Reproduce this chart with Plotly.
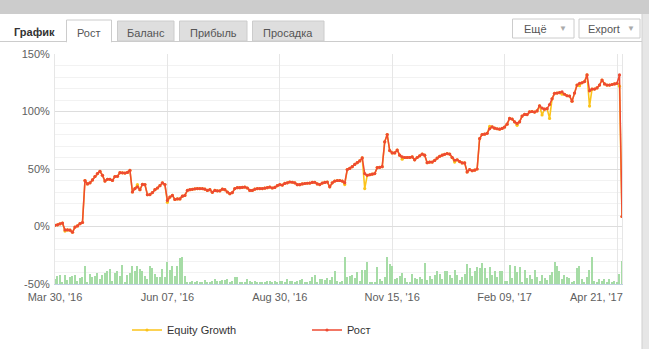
import plotly.graph_objects as go

# ---------------- data ----------------
tick_labels = ["Mar 30, '16", "Jun 07, '16", "Aug 30, '16", "Nov 15, '16", "Feb 09, '17", "Apr 21, '17"]
tick_points = [0, 45, 90, 135, 180, 225]   # point number of each labelled date (ordinal axis)

growth = [
    1, 1.5, 2.3, 3, -3, -3, -3.2, -5, -0.5, 0.5,
    2.5, 3.5, 40, 37, 38, 40.5, 43.5, 46, 48, 44.5,
    39.5, 41, 41, 40, 43.5, 43.6, 46.8, 46.7, 46.5, 47,
    48.8, 30, 33, 34.5, 32, 36.6, 36.5, 27.6, 27.8, 29.5,
    32, 33.5, 35.5, 38, 36.5, 22.7, 25.6, 27, 23.5, 24,
    24, 26.4, 27, 31.4, 32, 32.3, 32.8, 33, 33, 33,
    32.5, 31.4, 32, 29.7, 31.4, 31, 31, 32.5, 32, 30,
    28.5, 29.5, 33, 33.8, 33.8, 34, 34.3, 33.5, 31.4, 31.4,
    32.5, 33, 33, 33, 33.3, 33.8, 34.3, 33.5, 34, 35.5,
    36.4, 36, 37.5, 38, 38.7, 38.5, 38, 36.4, 36.4, 37,
    37.4, 37.6, 37.8, 38.3, 38.5, 37, 36.5, 37.8, 38.3, 38.7,
    34.5, 38, 39.5, 40, 40, 39.5, 38, 49.5, 50.5, 52,
    54, 55.5, 57, 59.6, 46, 44.5, 45, 45.5, 46, 51.2,
    51.5, 52, 73.6, 80, 66, 64, 64, 66.5, 62, 60.5,
    60, 60, 60, 60.5, 58, 60, 61.5, 63, 62, 55.5,
    56, 56, 57.5, 59.5, 61, 62, 62.8, 63.4, 63, 60,
    57.6, 58, 56.5, 55.3, 55.3, 47.4, 49.5, 48.5, 49, 50,
    76.5, 80, 80.3, 81, 85, 86.6, 85.5, 85, 84.6, 85.3,
    86.5, 89, 94, 93.5, 91, 89.6, 91, 96, 97.5, 97.3,
    99.7, 100, 99.5, 100.5, 105, 103, 102, 102.5, 106, 111,
    115.8, 116, 116.5, 117, 115, 113.7, 113.5, 109, 116, 123,
    124.5, 125, 126, 131.8, 118, 119.5, 119.5, 120.5, 123, 127.4,
    124, 123, 123, 123.5, 124, 124.5, 131.8, 8.7,
]

# points where the Equity Growth line departs from Рост (all other points coincide)
equity_departures = {
    4: -4, 33: 36.5, 45: 21, 116: 36.5, 124: 33, 139: 58.5, 160: 56,
    174: 87, 185: 88, 195: 97, 198: 94, 203: 115, 210: 122.5, 214: 104.7, 226: 122,
}
equity = [equity_departures.get(i, v) for i, v in enumerate(growth)]

# small green columns at the bottom (height above the -50% floor, in axis units)
volume = [
    4.4, 7.3, 8.1, 1.5, 7.9, 3.5, 5.8, 7.3, 8.1, 2.3, 5.2, 6.4, 16, 1.5, 8.7, 5.8, 7.3, 9.3, 4.4, 8.1,
    9.3, 11.6, 13.1, 2.3, 9.3, 11, 7.3, 16.9, 1.5, 8.1, 9.3, 16, 11.6, 16, 13.1, 11.6, 7.3, 4.4, 16, 14,
    8.7, 6.4, 5.8, 13.1, 6.4, 18.9, 12.2, 16, 7.3, 16, 22.7, 23.5,
    7.3,
    1.5, 0.9, 2.3, 1.5, 2.9, 1.2, 2.0, 3.5, 1.5, 2.0, 2.9, 4.4, 2.3, 2.9, 3.5, 3.5, 4.4, 1.5, 2.3, 5.8,
    6.4, 1.5, 2.0, 0.9, 4.4, 2.9, 2.0, 2.9, 0.9, 0.9, 0.9, 0.9, 2.3, 2.9, 0.9, 2.3, 0.9, 2.9, 2.9, 1.5,
    4.4, 2.3, 2.9, 2.0, 2.9, 3.5, 4.4, 0.9, 1.5, 2.9, 6.4, 8.1, 2.0, 4.4, 4.4, 3.5, 5.2, 3.5, 5.8, 11,
    2.9, 1.5, 2.3, 23.9,
    5.8, 7.3, 8.1, 5.2, 10.2, 2.3, 12.2, 12.2, 18.9, 0.9, 1.5, 0.9, 14.5, 4.4, 2.3, 5.8, 23.9, 17.5, 16,
    4.4, 5.2, 7.3, 9.3, 5.2, 0.9, 0.9, 8.7, 5.2, 4.4, 6.4, 4.4, 18, 3.5, 7.3, 4.4, 8.1, 11, 8.7, 4.4,
    11, 11, 8.1, 5.2, 12.2, 8.1, 3.5, 5.8, 8.7, 17.5, 14, 7.3, 11.6, 15.1, 14, 18, 14, 5.2, 14.5, 8.1,
    11, 6.4, 11.6, 11, 2.3,
    2.3, 16.9, 5.2, 16, 10.2, 14.5, 1.5, 12.2, 5.2, 8.1, 4.4, 12.2, 5.8, 2.9, 8.1, 5.2, 3.5, 8.1, 10.2, 18.9,
    16, 11, 4.4, 8.1, 6.4, 5.2, 1.5, 2.3, 14, 16, 4.4, 1.5, 6.4, 12.2, 23.9, 2.9, 1.5, 4.4, 2.3, 4.4,
    1.5, 4.4, 1.5, 2.3, 1.5, 8.7, 20.4,
]

y_ticks = [-50, 0, 50, 100, 150]
y_tick_labels = ["-50%", "0%", "50%", "100%", "150%"]

tab_names = ["Рост", "Баланс", "Прибыль", "Просадка"]

# ---------------- figure ----------------
W, H = 649, 349
L, R, T, B = 55, 622, 54, 284


def PX(x):
    return (x - L) / (R - L)


def PY(y):
    return (B - y) / (B - T)


FONT = "Liberation Sans, Arial, sans-serif"

# the last date label is justified to stay inside the plot edge (as Highcharts does),
# so it is drawn as an annotation at its tick position, shifted left
shown_tick_labels = list(tick_labels[:-1]) + [""]

fig = go.Figure()
fig.add_trace(go.Bar(
    x=list(range(len(volume))), y=volume, base=-50,
    marker=dict(color="#a6dca6", line=dict(width=0)), width=0.45,
    showlegend=False, hoverinfo="skip",
))
fig.add_trace(go.Scatter(
    x=list(range(len(equity))), y=equity, name="Equity Growth",
    mode="lines+markers",
    line=dict(color="#fbc31a", width=1.6),
    marker=dict(color="#fbc31a", size=3.2),
))
fig.add_trace(go.Scatter(
    x=list(range(len(growth))), y=growth, name="Рост",
    mode="lines+markers",
    line=dict(color="#ee4a32", width=1.5),
    marker=dict(color="#ee4a32", size=3.2),
))

shapes = []
annotations = []


def rect(x0, y0, x1, y1, fill, line=None, lw=1):
    shapes.append(dict(type="rect", xref="paper", yref="paper",
                       x0=PX(x0), x1=PX(x1), y0=PY(y1), y1=PY(y0),
                       fillcolor=fill, line=dict(color=line or fill, width=lw if line else 0),
                       layer="above"))


def hline(x0, x1, y, color):
    shapes.append(dict(type="line", xref="paper", yref="paper",
                       x0=PX(x0), x1=PX(x1), y0=PY(y), y1=PY(y),
                       line=dict(color=color, width=1), layer="above"))


def text(x, y, s, size=11, color="#555555", bold=False, anchor="center"):
    annotations.append(dict(xref="paper", yref="paper", x=PX(x), y=PY(y),
                            text=("<b>%s</b>" % s) if bold else s, showarrow=False,
                            xanchor=anchor, yanchor="middle",
                            font=dict(family=FONT, size=size, color=color)))


# last x label (justified inside the plot's right edge)
annotations.append(dict(xref="x", yref="paper", x=tick_points[-1], y=PY(297),
                        text=tick_labels[-1], showarrow=False, xanchor="right", yanchor="middle",
                        xshift=8, font=dict(family=FONT, size=11, color="#606060")))

# header: grey top band and right strip
rect(0, 0, 649, 14, "#cccccc")
rect(642, 14, 649, 349, "#e6e6e6")
shapes.append(dict(type="line", xref="paper", yref="paper", x0=PX(642), x1=PX(642),
                   y0=PY(14), y1=PY(349), line=dict(color="#cfcfcf", width=1), layer="above"))

# tabs
text(12, 32, "График", size=11, color="#333333", bold=True, anchor="left")
tab_bounds = [(66.5, 111.5), (117.5, 174), (179.5, 247), (252.5, 324)]
for k, (name, (a, b)) in enumerate(zip(tab_names, tab_bounds)):
    if k == 0:
        rect(a, 20, b, 42, "#ffffff", "#cccccc")
    else:
        rect(a, 21, b, 41, "#dedede", "#cccccc")
    text((a + b) / 2, 32.5, name, size=11, color="#555555")
hline(0, 66.5, 41.5, "#cccccc")
hline(111.5, 642, 41.5, "#cccccc")
rect(67, 40, 111, 43, "#ffffff")

# buttons
rect(512.5, 19, 574, 38, "#ffffff", "#cccccc")
text(535, 28.5, "Ещё", size=11, color="#555555")
text(563, 28.5, "▼", size=8, color="#aaaaaa")
rect(579, 19, 640, 38, "#ffffff", "#cccccc")
text(604, 28.5, "Export", size=11, color="#555555")
text(631, 28.5, "▼", size=8, color="#aaaaaa")

fig.update_layout(
    width=W, height=H,
    margin=dict(l=L, r=W - R, t=T, b=H - B, pad=0, autoexpand=False),
    paper_bgcolor="#ffffff", plot_bgcolor="#ffffff",
    font=dict(family=FONT, size=11, color="#606060"),
    bargap=0,
    shapes=shapes, annotations=annotations,
    showlegend=True,
    legend=dict(orientation="h", x=PX(127), y=PY(330), xanchor="left", yanchor="middle",
                entrywidth=135, entrywidthmode="pixels", traceorder="normal",
                font=dict(family=FONT, size=11, color="#333333"),
                bgcolor="rgba(0,0,0,0)"),
    hovermode=False,
)
fig.update_xaxes(
    range=[0, len(growth) - 1],
    tickmode="array", tickvals=tick_points, ticktext=shown_tick_labels,
    showgrid=True, gridcolor="#e6e6e6", gridwidth=1,
    showline=True, linecolor="#c0d0e0", linewidth=1,
    zeroline=False, ticks="outside", ticklen=3, tickcolor="rgba(0,0,0,0)",
    tickfont=dict(family=FONT, size=11, color="#606060"),
)
fig.update_yaxes(
    range=[-50, 150],
    tickmode="array", tickvals=y_ticks, ticktext=y_tick_labels,
    showgrid=True, gridcolor="#dddddd", gridwidth=1,
    minor=dict(dtick=10, tick0=0, showgrid=True, gridcolor="#f2f2f2", gridwidth=1),
    showline=True, mirror=True, linecolor="#e6e6e6", linewidth=1,
    zeroline=False, ticks="outside", ticklen=2, tickcolor="rgba(0,0,0,0)",
    tickfont=dict(family=FONT, size=11, color="#606060"),
)

fig.write_html("out.html")
